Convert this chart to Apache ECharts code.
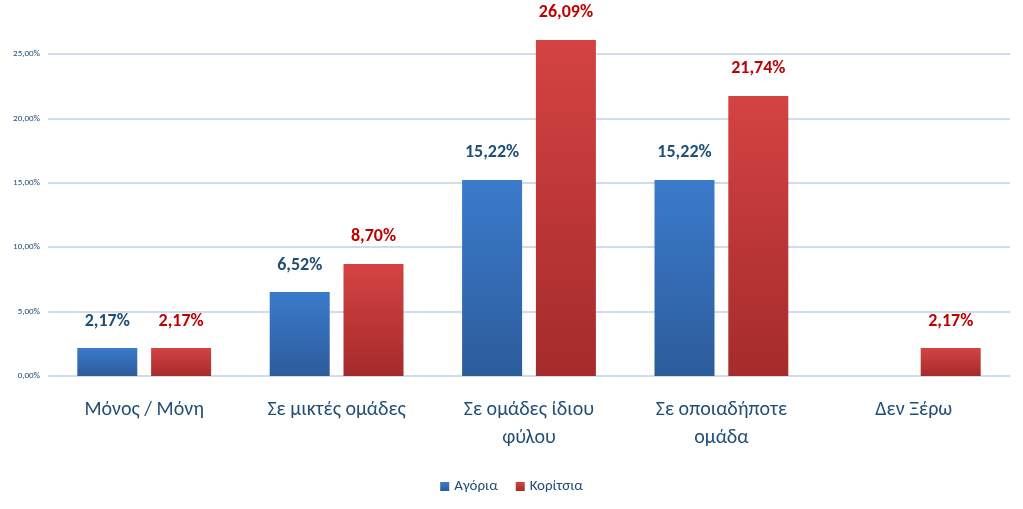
<!DOCTYPE html>
<html lang="el">
<head>
<meta charset="UTF-8">
<title>Chart</title>
</head>
<body style="margin:0;background:#fff">
<div id="main" style="width:1023px;height:509px"></div>
<script src="https://cdn.jsdelivr.net/npm/echarts@6/dist/echarts.min.js"></script>
<script>
const categories = ['Μόνος / Μόνη', 'Σε μικτές ομάδες', 'Σε ομάδες ίδιου\nφύλου', 'Σε οποιαδήποτε\nομάδα', 'Δεν Ξέρω'];
const boys = [2.17, 6.52, 15.22, 15.22, 0];
const girls = [2.17, 8.70, 26.09, 21.74, 2.17];

const fmt = v => v.toFixed(2).replace('.', ',') + '%';
const grad = (a, b) => new echarts.graphic.LinearGradient(0, 0, 0, 1, [
    { offset: 0, color: a }, { offset: 1, color: b }
]);
const font = 'Calibri, Carlito, "Open Sans", sans-serif';

const chart = echarts.init(document.getElementById('main'));
chart.setOption({
    animation: false,
    textStyle: { fontFamily: font },
    grid: { left: 48, right: 13, top: 54, bottom: 133 },
    legend: {
        bottom: 10, left: 'center', itemWidth: 9, itemHeight: 9, itemGap: 18,
        icon: 'rect',
        textStyle: { fontSize: 15, color: '#1f4e79', fontFamily: font }
    },
    xAxis: {
        type: 'category', data: categories,
        axisLine: { show: false }, axisTick: { show: false },
        axisLabel: { fontSize: 20, color: '#1f4e79', lineHeight: 28, margin: 20, interval: 0 }
    },
    yAxis: {
        type: 'value', min: 0, max: 25, interval: 5,
        axisLabel: { fontSize: 9, color: '#1f4e79', formatter: v => fmt(v) },
        splitLine: { lineStyle: { color: '#d0dcea', width: 2 } }
    },
    series: [
        {
            name: 'Αγόρια', type: 'bar', data: boys, barWidth: 60, barGap: '23%', clip: false,
            itemStyle: { color: grad('#3b7bcc', '#2c5c9a') },
            label: {
                show: true, position: 'top', distance: 18, fontSize: 18, fontWeight: 'bold', color: '#1f4e79',
                formatter: p => p.value ? fmt(p.value) : ''
            }
        },
        {
            name: 'Κορίτσια', type: 'bar', data: girls, barWidth: 60, clip: false,
            itemStyle: { color: grad('#d44343', '#a52b2b') },
            label: {
                show: true, position: 'top', distance: 18, fontSize: 18, fontWeight: 'bold', color: '#c00000',
                formatter: p => fmt(p.value)
            }
        }
    ]
});
// legend colours
chart.setOption({ color: ['#3b7bcc', '#d44343'] });
</script>
</body>
</html>
